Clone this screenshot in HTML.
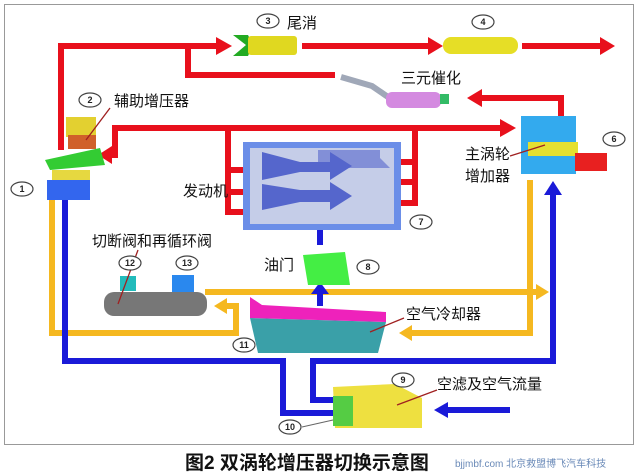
<!DOCTYPE html>
<html><head><meta charset="utf-8"><style>
html,body{margin:0;padding:0;background:#fff}
svg{display:block}
text{font-family:"Liberation Sans","Noto Sans CJK SC",sans-serif}
</style></head><body>
<svg width="638" height="475" viewBox="0 0 638 475" xmlns="http://www.w3.org/2000/svg">
<rect x="4.5" y="4.5" width="629" height="440" fill="#fff" stroke="#999"/>
<g stroke="#e8101c" stroke-width="6" fill="none">
<polyline points="61,150 61,46 216,46"/>
<polyline points="188,46 188,75 335,75"/>
<line x1="302" y1="46" x2="428" y2="46"/>
<line x1="522" y1="46" x2="600" y2="46"/>
<polyline points="561,120 561,98 482,98"/>
<polyline points="500,128 115,128 115,155 112,155"/>
<polyline points="228,128 228,212 250,212"/><line x1="228" y1="170" x2="250" y2="170"/><line x1="228" y1="192" x2="250" y2="192"/>
<polyline points="415,128 415,203 398,203"/><line x1="398" y1="162" x2="415" y2="162"/><line x1="398" y1="182" x2="415" y2="182"/>
</g>
<g fill="#e8101c">
<path d="M216,37 L232,46 L216,55Z"/><path d="M428,37 L443,46 L428,55Z"/><path d="M600,37 L615,46 L600,55Z"/>
<path d="M482,89 L467,98 L482,107Z"/><path d="M500,119 L516,128 L500,137Z"/><path d="M112,146 L98,155 L112,164Z"/>
</g>
<!-- yellow -->
<g stroke="#f5b820" stroke-width="6" fill="none">
<polyline points="52,195 52,333 236,333 236,306 227,306"/>
<line x1="205" y1="292" x2="538" y2="292"/>
<polyline points="530,180 530,333 412,333"/>
</g>
<g fill="#f5b820"><path d="M227,298 L214,306 L227,314Z"/><path d="M536,284 L549,292 L536,300Z"/><path d="M412,325 L399,333 L412,341Z"/></g>
<!-- blue -->
<g stroke="#1a1ad8" stroke-width="6" fill="none">
<polyline points="65,200 65,361 283,361 283,413 335,413"/>
<polyline points="553,195 553,361 313,361 313,400 335,400"/>
<line x1="320" y1="292" x2="320" y2="306"/>
<line x1="510" y1="410" x2="448" y2="410"/>
<line x1="320" y1="245" x2="320" y2="160"/>
</g>
<g fill="#1a1ad8"><path d="M56,200 L65,186 L74,200Z"/><path d="M544,195 L553,181 L562,195Z"/><path d="M311,294 L320,282 L329,294Z"/><path d="M448,402 L434,410 L448,418Z"/></g>
<!-- engine -->
<rect x="243" y="142" width="158" height="88" fill="#6b8ee8"/>
<rect x="250" y="148" width="144" height="76" fill="#c5cde8"/>
<g fill="#5566cc">
<path d="M262,152 L300,162 L330,162 L330,152 L352,166 L330,180 L330,172 L300,172 L262,180Z"/>
<path d="M262,184 L300,190 L330,190 L330,182 L352,196 L330,210 L330,202 L300,202 L262,210Z"/>
<path d="M318,150 L380,150 L380,158 L390,168 L318,168Z" opacity=".6"/></g>
<!-- components -->
<path d="M233,35 L246,45 L233,56 L248,56 L253,45 L248,35Z" fill="#22aa22"/>
<rect x="248" y="36" width="49" height="19" rx="3" fill="#e0d820"/>
<rect x="443" y="37" width="75" height="17" rx="8" fill="#e6de26"/>
<path d="M341,77 L372,86 L388,97" stroke="#a0a8b8" stroke-width="6" fill="none"/>
<rect x="386" y="92" width="55" height="16" rx="6" fill="#d48ae0"/>
<rect x="440" y="94" width="9" height="10" fill="#33bb66"/>
<rect x="521" y="116" width="55" height="58" fill="#33aaee"/>
<rect x="528" y="142" width="50" height="14" fill="#e5e030"/>
<rect x="575" y="153" width="32" height="18" fill="#e82020"/>
<rect x="66" y="117" width="30" height="20" fill="#e3d030"/>
<rect x="68" y="135" width="28" height="14" fill="#d0602a"/>
<path d="M45,160 L100,148 L105,165 L50,170Z" fill="#33cc33"/>
<rect x="52" y="170" width="38" height="10" fill="#e6d840"/>
<rect x="47" y="180" width="43" height="20" fill="#3366ee"/>
<path d="M303,255 L345,252 L350,285 L308,285Z" fill="#44ee44"/>
<rect x="104" y="292" width="103" height="24" rx="10" fill="#777"/>
<rect x="120" y="276" width="16" height="15" fill="#22bbbb"/>
<rect x="172" y="275" width="22" height="17" fill="#2a88ee"/>
<path d="M250,318 L386,322 L378,353 L258,353Z" fill="#3aa0a8"/>
<path d="M250,297 L262,305 L386,312 L386,322 L250,318Z" fill="#ee22bb"/>
<path d="M333,387 L395,384 L422,398 L422,428 L335,428Z" fill="#eee040"/>
<rect x="333" y="396" width="20" height="30" fill="#55cc44"/>
<!-- leader lines -->
<g stroke="#a02020" stroke-width="1.3">
<line x1="110" y1="108" x2="86" y2="140"/>
<line x1="510" y1="156" x2="545" y2="145"/>
<line x1="138" y1="250" x2="118" y2="304"/>
<line x1="404" y1="318" x2="370" y2="332"/>
<line x1="437" y1="390" x2="397" y2="405"/>
</g>
<line x1="302" y1="427" x2="333" y2="420" stroke="#666" stroke-width="1"/>
<!-- circles -->
<g fill="#fff" stroke="#444" stroke-width="1.2">
<ellipse cx="22" cy="189" rx="11" ry="7"/><ellipse cx="90" cy="100" rx="11" ry="7"/><ellipse cx="268" cy="21" rx="11" ry="7"/><ellipse cx="483" cy="22" rx="11" ry="7"/>
<ellipse cx="614" cy="139" rx="11" ry="7"/><ellipse cx="421" cy="222" rx="11" ry="7"/><ellipse cx="368" cy="267" rx="11" ry="7"/>
<ellipse cx="403" cy="380" rx="11" ry="7"/><ellipse cx="290" cy="427" rx="11" ry="7"/><ellipse cx="244" cy="345" rx="11" ry="7"/>
<ellipse cx="130" cy="263" rx="11" ry="7"/><ellipse cx="187" cy="263" rx="11" ry="7"/>
</g>
<g font-size="9" font-weight="bold" text-anchor="middle" fill="#222">
<text x="22" y="192">1</text><text x="90" y="103">2</text><text x="268" y="24">3</text><text x="483" y="25">4</text>
<text x="614" y="142">6</text><text x="421" y="225">7</text><text x="368" y="270">8</text><text x="403" y="383">9</text>
<text x="290" y="430">10</text><text x="244" y="348">11</text><text x="130" y="266">12</text><text x="187" y="266">13</text>
</g>
<g font-size="15" fill="#111">
<text x="287" y="28">尾消</text><text x="114" y="106">辅助增压器</text><text x="401" y="83">三元催化</text>
<text x="465" y="159">主涡轮</text><text x="465" y="181">增加器</text><text x="183" y="196">发动机</text>
<text x="92" y="246">切断阀和再循环阀</text><text x="264" y="270">油门</text><text x="406" y="319">空气冷却器</text>
<text x="437" y="389">空滤及空气流量</text>
</g>
<text x="185" y="469" font-size="19" font-weight="bold" fill="#111">图2 双涡轮增压器切换示意图</text>
<text x="455" y="467" font-size="10" fill="#6a8ab8">bjjmbf.com 北京救盟博飞汽车科技</text>
</svg>
</body></html>
